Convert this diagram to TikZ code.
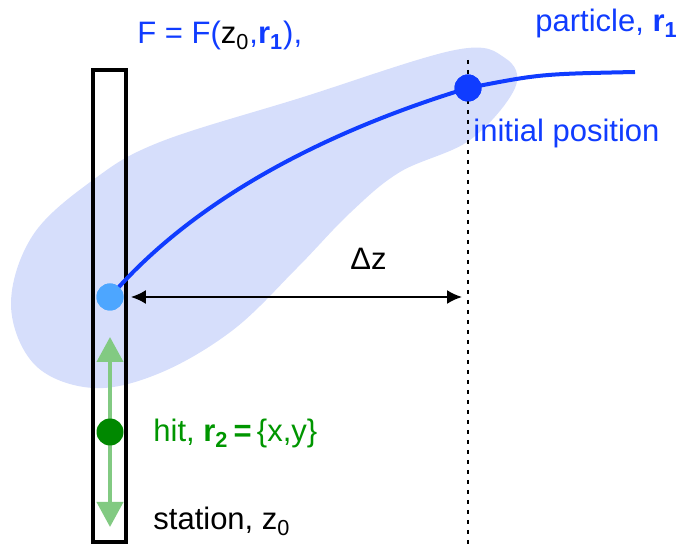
\documentclass[tikz,border=0pt]{standalone}
\usepackage{fontspec}
\setmainfont{Liberation Sans}
\usepackage{xcolor}
\usetikzlibrary{arrows.meta, positioning}

\definecolor{partblue}{RGB}{16,60,255}
\definecolor{blobblue}{RGB}{214,222,251}
\definecolor{hitblue}{RGB}{77,166,255}
\definecolor{hitgreen}{RGB}{0,136,0}
\definecolor{txtgreen}{RGB}{0,150,0}
\definecolor{movegreen}{RGB}{130,202,130}

\begin{document}
\begin{tikzpicture}[
    x=0.5pt, y=-0.5pt,
    lbl/.style={anchor=base west, inner sep=0pt, font=\fontsize{15.5}{18}\selectfont},
    dot/.style={circle, inner sep=0pt, minimum size=13.5pt},
    stationbox/.style={rectangle, draw=black, line width=2pt, minimum width=16.5pt, minimum height=236pt, inner sep=0pt},
    track/.style={draw=partblue, line width=2pt},
    dimarrow/.style={<->, >={Latex[length=7.5pt, width=7pt]}, line width=1pt},
    movearrow/.style={<->, >={Triangle[length=12.5pt, width=13pt]}, draw=movegreen, line width=2pt},
    dotline/.style={line width=1.35pt, dash pattern=on 2.2pt off 2.8pt}
]
\useasboundingbox (0,0) rectangle (681,545);

% ==========================================
% REGION OF THE FIELD
% ==========================================
\fill[blobblue] plot[smooth cycle, tension=0.6] coordinates {
    (11,305) (33,235) (93,180) (160,142) (300,98) (455,50) (505,58) (515,88)
    (470,140) (400,172) (350,213) (297,268) (233,330) (160,373) (93,388) (35,365)};

% ==========================================
% STATION AND HIT
% ==========================================
\node[stationbox] (station) at (109,306) {};
\coordinate (gtop) at (110,337);
\coordinate (gbot) at (110,527);
\draw[movearrow] (gtop) -- (gbot);
\node[dot, fill=hitgreen] (hit) at (110,432) {};

% ==========================================
% PARTICLE TRACK
% ==========================================
\node[dot, fill=hitblue] (proj) at (110,297) {};
\node[dot, fill=partblue] (init) at (468,88) {};
\coordinate (tail) at (635,72);
\draw[track] (proj.center) .. controls (215,175) and (380,115) .. (init.center)
    .. controls (540,74) .. (tail);
\node[dot, fill=hitblue] at (proj) {};

\coordinate (dtop) at (468,60);
\coordinate (dbot) at (468,545);
\draw[dotline] (dtop) -- (dbot);
\node[dot, fill=partblue] at (init) {};

% distance to station
\draw[dimarrow, shorten <=3.5pt, shorten >=3pt] (proj.east) -- (proj.east -| init);

% ==========================================
% LABELS
% ==========================================
\node[lbl, text=partblue] (flabel) at (137,44) {F = F(\textcolor{black}{z\textsubscript{0}},\textbf{r\textsubscript{1}}),};
\node[lbl, text=partblue] (plabel) at (535,32) {particle, \textbf{r\textsubscript{1}}};
\node[lbl, text=partblue] (ilabel) at (473,142) {initial position};
\node[lbl] (dzlabel) at (350,270) {Δz};
\node[lbl, text=txtgreen] (hlabel) at (153,442) {hit, \textbf{r\textsubscript{2}\,=}\,\{x,y\}};
\node[lbl] (slabel) at (153,530) {station, z\textsubscript{0}};

\end{tikzpicture}
\end{document}
